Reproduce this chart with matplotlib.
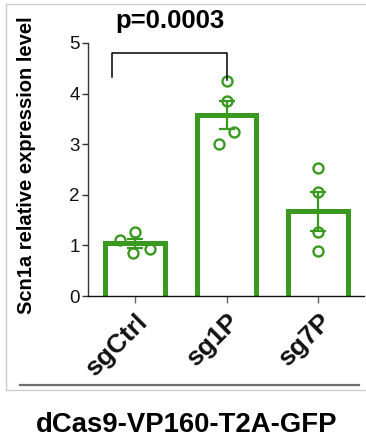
import matplotlib
matplotlib.use("Agg")
import matplotlib.pyplot as plt
from matplotlib.lines import Line2D
import numpy as np

plt.rcParams['font.family'] = ['Liberation Sans', 'DejaVu Sans']

categories = ["sgCtrl", "sg1P", "sg7P"]
means = [1.04, 3.58, 1.67]
sems = [0.09, 0.28, 0.38]
points = [
    [1.11, 1.26, 0.85, 0.93],
    [4.24, 3.86, 3.25, 3.00],
    [2.52, 2.06, 1.27, 0.88],
]
jitter = [
    [-0.17, 0.0, -0.02, 0.16],
    [0.0, 0.0, 0.08, -0.08],
    [0.0, 0.0, 0.0, 0.0],
]
yticks = [0, 1, 2, 3, 4, 5]
p_label = "p=0.0003"
ylabel = "Scn1a relative expression level"
title = "dCas9-VP160-T2A-GFP"

green = "#3A9A1F"
W, H = 366, 436
fig = plt.figure(figsize=(W / 100, H / 100), dpi=100)
fig.patch.set_facecolor("white")

def fx(px):
    return px / W

def fy(py):
    return 1 - py / H

ax = fig.add_axes([fx(88), fy(296), (364 - 88) / W, (296 - 43) / H])
x = np.arange(len(categories))
ax.set_xlim(-0.514, 2.5)
ax.set_ylim(0, 5)

base = -0.3
ax.bar(x, np.array(means) - base, bottom=base, width=0.65, fill=False,
       edgecolor=green, linewidth=3.6, zorder=2)
ax.errorbar(x, means, yerr=sems, fmt="none", ecolor=green, elinewidth=1.6,
            capsize=6, capthick=1.6, zorder=3)
for i, (pts, jit) in enumerate(zip(points, jitter)):
    ax.plot(np.array(jit) + x[i], pts, linestyle="none", marker="o",
            markersize=7.2, markerfacecolor="none", markeredgecolor=green,
            markeredgewidth=1.7, zorder=4, clip_on=False)

# significance bracket
bx0, bx1 = -0.25, 1.0
ax.plot([bx0, bx0, bx1, bx1], [4.33, 4.80, 4.80, 4.27], color="black",
        linewidth=1.1, clip_on=False, zorder=5)
ax.text(0.38, 5.43, p_label, ha="center", va="center", fontsize=18.5,
        fontweight="bold", clip_on=False)

for s in ["top", "right"]:
    ax.spines[s].set_visible(False)
ax.spines["left"].set_color("#333333")
ax.spines["left"].set_linewidth(1.0)
ax.spines["bottom"].set_color("#111111")
ax.spines["bottom"].set_linewidth(1.0)
ax.set_yticks(yticks)
ax.set_yticklabels([str(t) for t in yticks])
ax.tick_params(axis="y", length=4, width=1, color="#333333", pad=2,
               labelsize=13.5, labelcolor="#111111")
ax.set_xticks(x)
ax.set_xticklabels(categories, rotation=45, ha="right", va="top",
                   rotation_mode="anchor", fontsize=19, fontweight="bold")
ax.tick_params(axis="x", length=5, width=1, color="#666666", pad=5,
               labelcolor="#111111")

fig.text(fx(27), fy(165), ylabel, rotation=90, ha="center", va="center",
         fontsize=14.5, fontweight="bold")
fig.text(fx(187), fy(424.5), title, ha="center", va="center",
         fontsize=19.8, fontweight="bold")

# frame lines
lg = "#cccccc"
fig.add_artist(Line2D([fx(6), 1.0], [fy(4), fy(4)], color=lg, linewidth=1.0))
fig.add_artist(Line2D([fx(6), fx(6)], [fy(4), fy(390)], color=lg, linewidth=1.0))
fig.add_artist(Line2D([fx(6), 1.0], [fy(390), fy(390)], color=lg, linewidth=1.0))
fig.add_artist(Line2D([fx(20), fx(359)], [fy(385), fy(385)], color="#6e6e6e",
                      linewidth=1.6))

fig.savefig("out.png", dpi=100, facecolor="white")
